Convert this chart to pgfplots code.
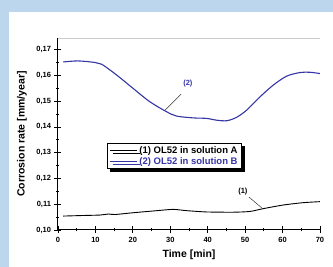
\documentclass[border=0pt]{standalone}
\usepackage{fontspec}
\setmainfont{Liberation Sans}
\usepackage{pgfplots}
\pgfplotsset{compat=1.18}
\usetikzlibrary{shadows}
\definecolor{bgblue}{HTML}{BCD6EE}
\definecolor{lineblue}{HTML}{3535A5}
\begin{document}
\begin{tikzpicture}[x=1pt,y=1pt]
\fill[bgblue] (0,0) rectangle (333,267);
\fill[white] (9,0) rectangle (333,255);
\begin{axis}[
  at={(58pt,37pt)}, anchor=south west,
  scale only axis, width=262pt, height=192pt,
  xmin=0, xmax=70, ymin=0.10, ymax=0.1745,
  axis x line*=bottom, axis y line*=left,
  axis line style={line width=1pt,-},
  xtick={0,10,20,30,40,50,60,70},
  ytick={0.10,0.11,0.12,0.13,0.14,0.15,0.16,0.17},
  minor x tick num=1, minor y tick num=1,
  tick align=center, major tick length=7pt, minor tick length=3pt,
  tick style={black, line width=0.8pt},
  scaled y ticks=false,
  ticklabel style={font=\fontsize{7.5}{9}\selectfont\bfseries, /pgf/number format/assume math mode=true},
  yticklabel style={/pgf/number format/.cd, fixed, fixed zerofill, precision=2, use comma},
  xlabel={Time [min]},
  ylabel={Corrosion rate [mm/year]},
  label style={font=\fontsize{10.5}{12}\selectfont\bfseries},
  xlabel style={at={(axis description cs:0.5,-0.13)}, anchor=center},
  ylabel style={at={(axis description cs:-0.1374,0.5)}, anchor=center},
  legend style={at={(axis cs:13.1,0.1337)}, anchor=north west,
    draw=black, fill=white, line width=0.6pt,
    font=\fontsize{9.5}{10}\selectfont\bfseries,
    inner xsep=2pt, inner ysep=1pt, row sep=-1.5pt,
    drop shadow={shadow xshift=3pt, shadow yshift=-3pt, fill=black, opacity=1}},
  legend cell align=left,
  legend image code/.code={\draw[#1] (0pt,0pt) -- (27pt,0pt);},
]
\addplot[black, line width=0.9pt, smooth, tension=0.4] coordinates {
(1.4,0.1054) (6,0.1056) (11.2,0.1058) (13.5,0.1062) (15.2,0.1060) (20.1,0.1067)
(26.4,0.1075) (30.8,0.1080) (34.4,0.1075) (39.7,0.1070) (46.8,0.1069)
(51.3,0.1072) (54.9,0.1083) (60.2,0.1097) (65.5,0.1106) (70,0.1110)};
\addlegendentry{(1) OL52 in solution A\hspace{12pt}}
\addplot[lineblue, line width=1.1pt, smooth, tension=0.5] coordinates {
(1.4,0.1652) (5.4,0.1656) (9.9,0.1650) (11.7,0.1643) (15.7,0.1601) (20.1,0.1549)
(24.6,0.1497) (29.0,0.1459) (31.7,0.1442) (36.1,0.1435) (39.7,0.1433)
(42.4,0.1426) (45.1,0.1424) (47.7,0.1437) (50.4,0.1465) (54.0,0.1517)
(57.5,0.1562) (61.1,0.1597) (64.7,0.1611) (67.3,0.1612) (70,0.1607)};
\addlegendentry{\textcolor{lineblue}{(2) OL52 in solution B}}
\draw[gray!40, line width=0.6pt] (rel axis cs:0,1) -- (rel axis cs:1,1) -- (rel axis cs:1,0);
\node[text=lineblue, font=\fontsize{7.5}{8}\selectfont\bfseries] at (axis cs:34.7,0.1570) {(2)};
\draw[black!80, line width=0.5pt] (axis cs:32.9,0.1527) -- (axis cs:28.6,0.1465);
\node[text=black, font=\fontsize{7.5}{8}\selectfont\bfseries] at (axis cs:49.4,0.1151) {(1)};
\draw[black!80, line width=0.5pt] (axis cs:51.0,0.1128) -- (axis cs:54.5,0.1085);
\end{axis}
\end{tikzpicture}
\end{document}
